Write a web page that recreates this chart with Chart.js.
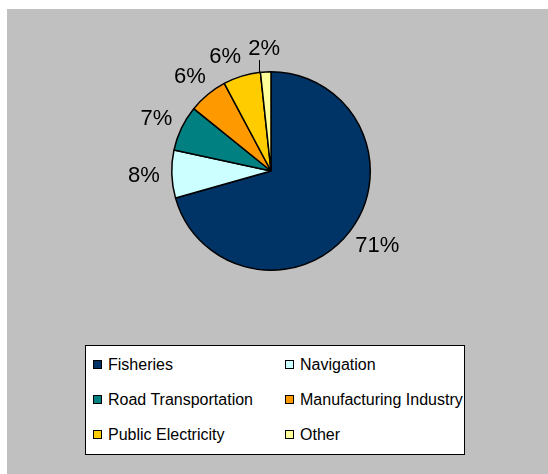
<!DOCTYPE html>
<html>
<head>
<meta charset="utf-8">
<script src="https://cdn.jsdelivr.net/npm/chart.js@4.4.0/dist/chart.umd.min.js"></script>
<style>
body { margin: 0; background: #fff; font-family: "Liberation Sans", Arial, sans-serif; }
#bg { position: absolute; left: 7px; top: 9px; width: 541px; height: 465px; background: #c0c0c0; }
#wrap { position: absolute; left: 0; top: 0; width: 548px; height: 474px; }
#legend { position: absolute; left: 85px; top: 345px; width: 378px; height: 108px; background: #fff; border: 1.5px solid #000; overflow: hidden; }
.item { position: absolute; height: 20px; line-height: 20px; font-size: 16px; white-space: nowrap; color: #000; }
.box { display: inline-block; width: 7px; height: 7px; border: 1px solid #000; margin-right: 6px; vertical-align: 1px; }
</style>
</head>
<body>
<div id="bg"></div>
<div id="wrap"><canvas id="myChart" width="548" height="474"></canvas></div>
<div id="legend"></div>
<script>
// pie data
const categories = ['Fisheries', 'Navigation', 'Road Transportation', 'Manufacturing Industry', 'Public Electricity', 'Other'];
const shares = [70.6, 7.8, 7.4, 6.4, 6.1, 1.7];
const percentLabels = ['71%', '8%', '7%', '6%', '6%', '2%'];

const sliceColors = ['#003366', '#ccffff', '#008080', '#ff9900', '#ffcc00', '#ffff99'];

// where a label box sits for a given angle (box touches circle r+gap)
function labelBox(p, angle, w, h) {
    const dx = Math.cos(angle), dy = Math.sin(angle);
    const r = p.outerRadius + 10;
    const cx = p.x + dx * r + dx * w / 2;
    const cy = p.y + dy * r + dy * h / 2;
    return { cx: cx, cy: cy, w: w, h: h, angle: angle };
}

function tooClose(a, b, margin) {
    return Math.abs(a.cx - b.cx) < (a.w + b.w) / 2 - 4 + margin &&
           Math.abs(a.cy - b.cy) < (a.h + b.h) / 2 - 8;
}

// labels outside the slices, excel style
const sliceLabels = {
    id: 'sliceLabels',
    afterDatasetsDraw(chart) {
        const ctx = chart.ctx;
        const meta = chart.getDatasetMeta(0);
        ctx.save();
        ctx.font = '22px "Liberation Sans", Arial, sans-serif';
        ctx.fillStyle = '#000';
        ctx.strokeStyle = '#000';
        ctx.lineWidth = 1;
        ctx.textAlign = 'center';
        ctx.textBaseline = 'middle';
        const props = meta.data.map(arc => arc.getProps(['x', 'y', 'startAngle', 'endAngle', 'outerRadius'], true));
        const boxes = props.map((p, i) => {
            const w = ctx.measureText(percentLabels[i]).width + 4;
            return labelBox(p, (p.startAngle + p.endAngle) / 2, w, 28);
        });
        // push crowded labels back (counter clockwise) so they dont overlap
        for (let i = boxes.length - 2; i >= 0; i--) {
            let b = boxes[i];
            let n = 0;
            while (tooClose(b, boxes[i + 1], 6) && n < 60) {
                b = labelBox(props[i], b.angle - Math.PI / 180, b.w, b.h);
                n++;
            }
            boxes[i] = b;
        }
        boxes.forEach((b, i) => {
            const p = props[i];
            ctx.fillText(percentLabels[i], b.cx, b.cy + 1);
            // leader line for the tiny slice
            if (shares[i] < 3) {
                const lx = Math.round(b.cx - 5) + 0.5;
                const edge = p.y - Math.sqrt(p.outerRadius * p.outerRadius - (lx - p.x) * (lx - p.x));
                ctx.beginPath();
                ctx.moveTo(lx, b.cy + 12);
                ctx.lineTo(lx, edge);
                ctx.stroke();
            }
        });
        ctx.restore();
    }
};

const config = {
    type: 'pie',
    data: {
        labels: categories,
        datasets: [{
            data: shares,
            backgroundColor: sliceColors,
            borderColor: '#000',
            borderWidth: 1.5
        }]
    },
    options: {
        responsive: false,
        animation: false,
        events: [],
        layout: {
            padding: { left: 171, right: 177, top: 71, bottom: 203 }
        },
        plugins: {
            legend: { display: false },
            tooltip: { enabled: false }
        }
    },
    plugins: [sliceLabels]
};

const myChart = new Chart(document.getElementById('myChart'), config);

// html legend, two columns
const legendBox = document.getElementById('legend');
categories.forEach((name, i) => {
    const item = document.createElement('div');
    item.className = 'item';
    item.style.left = (7 + (i % 2) * 192) + 'px';
    item.style.top = (9 + Math.floor(i / 2) * 35) + 'px';
    item.innerHTML = '<span class="box" style="background:' + sliceColors[i] + '"></span>' + name;
    legendBox.appendChild(item);
});
</script>
</body>
</html>
